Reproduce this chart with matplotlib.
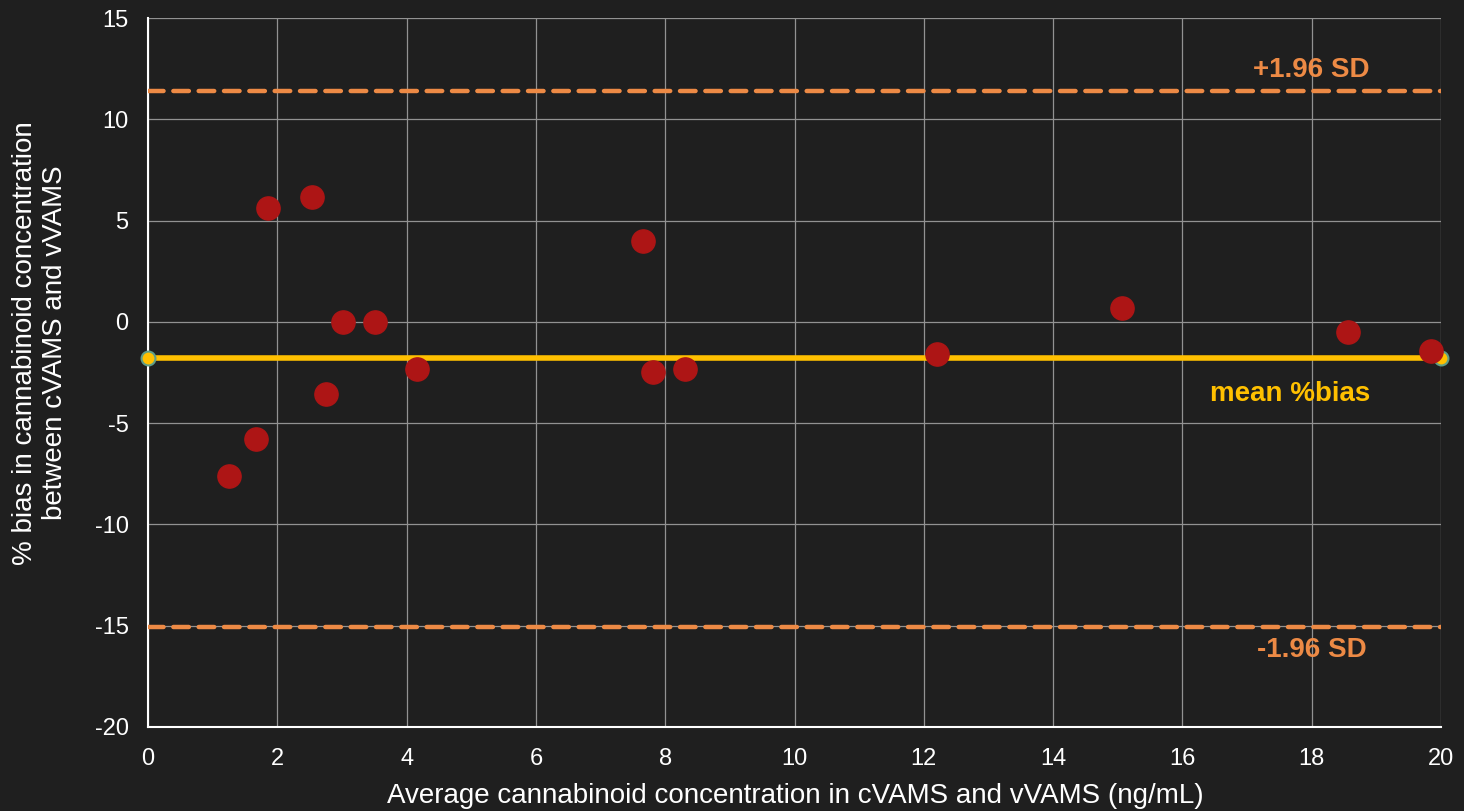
import numpy as np
import matplotlib.pyplot as plt

plt.rcParams['font.family'] = ['Liberation Sans', 'DejaVu Sans']
plt.rcParams['axes.unicode_minus'] = False

# average concentration (ng/mL) and % bias
avg_conc = [1.25, 1.67, 1.86, 2.54, 2.75, 3.02, 3.51, 4.16, 7.66, 7.81, 8.31, 12.2, 15.07, 18.56, 19.85]
pct_bias = [-7.6, -5.8, 5.6, 6.15, -3.55, 0.0, 0.0, -2.35, 4.0, -2.5, -2.35, -1.6, 0.7, -0.5, -1.45]

mean_bias = -1.8
upper_loa = 11.4
lower_loa = -15.05
x_range = [0, 20]

bg = '#1f1f1f'
fig = plt.figure(figsize=(14.64, 8.11), dpi=100, facecolor=bg)
ax = fig.add_axes([0.1011, 0.1036, 0.8832, 0.8742], facecolor=bg)

ax.set_xlim(0, 20)
ax.set_ylim(-20, 15)
ax.set_xticks(np.arange(0, 21, 2))
ax.set_yticks(np.arange(-20, 16, 5))
ax.grid(True, color='#929292', linewidth=0.9)
ax.set_axisbelow(True)

for s in ['top', 'right']:
    ax.spines[s].set_visible(False)
for s in ['left', 'bottom']:
    ax.spines[s].set_color('white')
    ax.spines[s].set_linewidth(1.5)
ax.tick_params(colors='white', labelsize=17, length=0)
ax.tick_params(axis='x', pad=15)
ax.tick_params(axis='y', pad=14)

# limits of agreement
ax.plot(x_range, [upper_loa, upper_loa], color='#ed8a45', lw=3.2, ls=(0, (3.5, 2.2)),
        dash_capstyle='round', zorder=3)
ax.plot(x_range, [lower_loa, lower_loa], color='#ed8a45', lw=3.2, ls=(0, (3.5, 2.2)),
        dash_capstyle='round', zorder=3)

# mean bias line
ax.plot(x_range, [mean_bias, mean_bias], color='#ffc000', lw=4, marker='o', ms=10,
        mfc='#ffc000', mec='#5f9e87', mew=1.5, zorder=4, clip_on=False)

ax.scatter(avg_conc, pct_bias, s=280, color='#ad1515', zorder=5, clip_on=False)

ax.text(18.0, 12.45, '+1.96 SD', color='#ed8a45', fontsize=20, fontweight='bold', ha='center', va='center')
ax.text(17.66, -3.55, 'mean %bias', color='#ffc000', fontsize=20, fontweight='bold', ha='center', va='center')
ax.text(18.0, -16.2, '-1.96 SD', color='#ed8a45', fontsize=20, fontweight='bold', ha='center', va='center')

fig.text(795 / 1464, 1 - 796 / 811, 'Average cannabinoid concentration in cVAMS and vVAMS (ng/mL)',
         color='white', fontsize=20, ha='center', va='center')
fig.text(40 / 1464, 1 - 343 / 811, '% bias in cannabinoid concentration\nbetween cVAMS and vVAMS',
         color='white', fontsize=20, ha='center', va='center', rotation=90, multialignment='center')

fig.savefig('out.png', dpi=100, facecolor=bg)
